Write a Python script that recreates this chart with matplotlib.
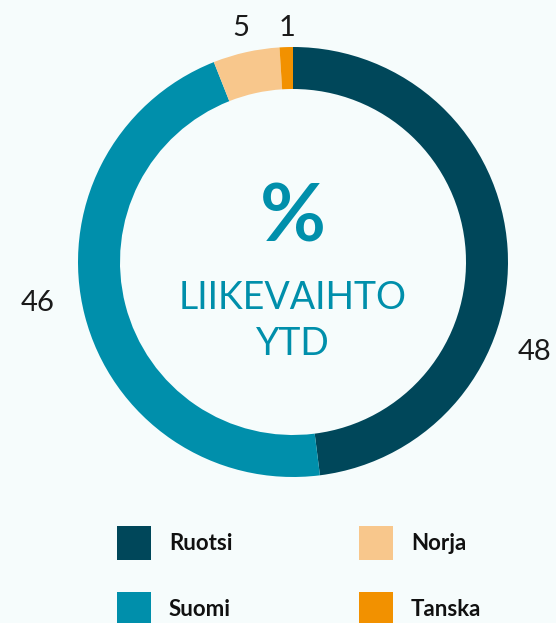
import matplotlib.pyplot as plt
from matplotlib.patches import Rectangle

# data
countries = ['Ruotsi', 'Suomi', 'Norja', 'Tanska']
shares = [48, 46, 5, 1]
colors = ['#00475a', '#008fab', '#f8c78c', '#f29100']
# pie order (clockwise from top)
pie_order = ['Ruotsi', 'Suomi', 'Norja', 'Tanska']

bg = '#f6fcfc'
W, H = 556, 623
fig = plt.figure(figsize=(W / 100, H / 100), dpi=100, facecolor=bg)
ax = fig.add_axes([0, 0, 1, 1])
ax.set_facecolor(bg)

cx, cy, R = 293, H - 262, 215
vals = [shares[countries.index(c)] for c in pie_order]
cols = [colors[countries.index(c)] for c in pie_order]
ax.pie(vals, colors=cols, startangle=90, counterclock=False, center=(cx, cy),
       radius=R, wedgeprops=dict(width=42, linewidth=0), frame=True)
ax.set_xlim(0, W)
ax.set_ylim(0, H)
ax.set_aspect('equal')
ax.axis('off')

# value labels (positions in pixels from top-left)
label_pos = {'Ruotsi': (535, 352), 'Suomi': (38, 303), 'Norja': (241, 28), 'Tanska': (287, 28)}
for c, v in zip(countries, shares):
    x, y = label_pos[c]
    ax.text(x, H - y, str(v), ha='center', va='center', fontsize=21,
            family='Lato', color='#1a1a1a')

# center text
ax.text(cx, H - 218, '%', ha='center', va='center', fontsize=58,
        fontweight='bold', family='Lato', color='#008fab')
ax.text(cx, H - 298, 'LIIKEVAIHTO', ha='center', va='center', fontsize=27,
        fontweight='normal', family='Lato', color='#008fab')
ax.text(cx, H - 344, 'YTD', ha='center', va='center', fontsize=27,
        fontweight='normal', family='Lato', color='#008fab')

# legend
leg_x = [117, 359]
leg_y = [543, 609]
for i, c in enumerate(countries):
    col = 0 if c in ('Ruotsi', 'Suomi') else 1
    row = 0 if c in ('Ruotsi', 'Norja') else 1
    x, y = leg_x[col], leg_y[row]
    ax.add_patch(Rectangle((x, H - y - 17), 34, 34, color=colors[i], lw=0))
    ax.text(x + 52, H - y, c, ha='left', va='center', fontsize=16,
            fontweight='bold', family='Lato', color='#111111')

fig.savefig('out.png', dpi=100, facecolor=bg)
